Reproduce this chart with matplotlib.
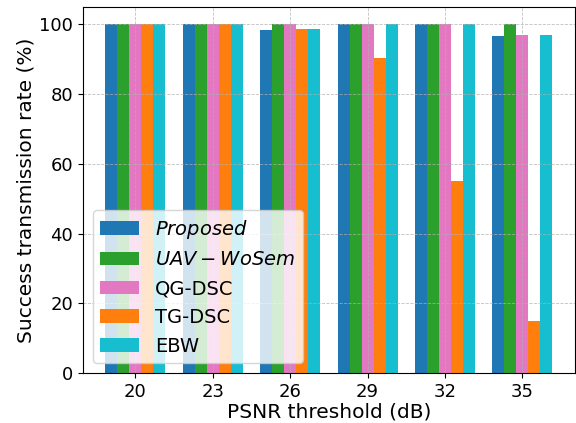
import matplotlib
matplotlib.use("Agg")
import matplotlib.pyplot as plt
import numpy as np

# PSNR thresholds (dB) and success rates (%) per scheme
thresholds = [20, 23, 26, 29, 32, 35]
proposed = [100, 100, 98.3, 100, 100, 96.6]
uav_wosem = [100, 100, 100, 100, 100, 100]
qg_dsc = [100, 100, 100, 100, 100, 96.8]
tg_dsc = [100, 100, 98.6, 90.3, 55, 15]
ebw = [100, 100, 98.6, 100, 100, 96.8]

series = [
    (proposed, r"$Proposed$", "#1f77b4"),
    (uav_wosem, r"$UAV-WoSem$", "#2ca02c"),
    (qg_dsc, "QG-DSC", "#e377c2"),
    (tg_dsc, "TG-DSC", "#ff7f0e"),
    (ebw, "EBW", "#17becf"),
]

fig, ax = plt.subplots(figsize=(5.76, 4.23), dpi=100)
fig.subplots_adjust(left=0.144, right=0.998, bottom=0.118, top=0.984)

x = np.arange(len(thresholds))
width = 0.155
for i, (vals, label, color) in enumerate(series):
    ax.bar(x + (i - 2) * width, vals, width, color=color, label=label)

ax.set_xticks(x)
ax.set_xticklabels([str(t) for t in thresholds])
ax.set_ylim(0, 105)
ax.set_yticks([0, 20, 40, 60, 80, 100])
ax.tick_params(labelsize=13)
ax.set_xlabel("PSNR threshold (dB)", fontsize=14.5, labelpad=1)
ax.set_ylabel("Success transmission rate (%)", fontsize=14.5, labelpad=3)
ax.grid(True, linestyle="--", linewidth=0.6, color="#b0b0b0", alpha=0.8)

ax.legend(loc="lower left", fontsize=14)

fig.savefig("out.png", dpi=100)
